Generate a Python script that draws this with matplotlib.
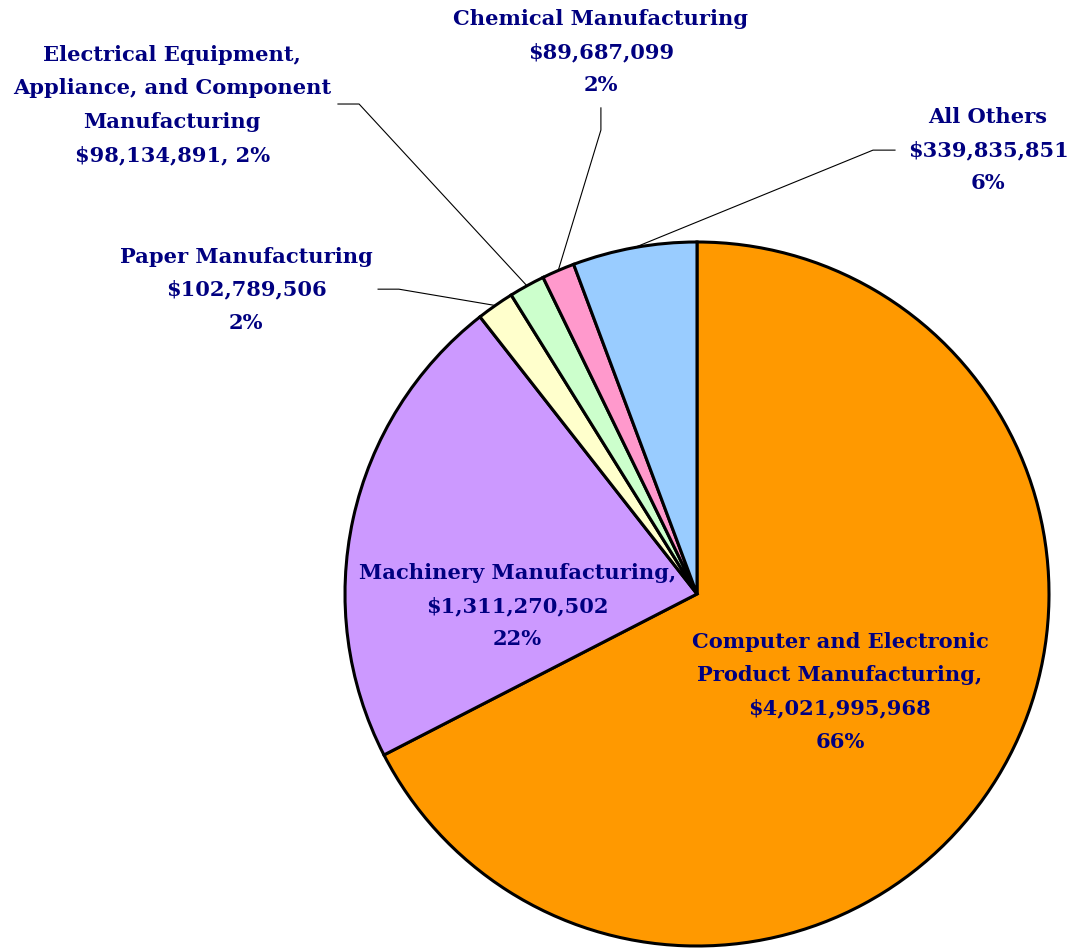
import matplotlib
matplotlib.use("Agg")
import matplotlib.pyplot as plt
import numpy as np

categories = ["Computer and Electronic Product Manufacturing", "Machinery Manufacturing",
              "Paper Manufacturing", "Electrical Equipment, Appliance, and Component Manufacturing",
              "Chemical Manufacturing", "All Others"]
values = [4021995968, 1311270502, 102789506, 98134891, 89687099, 339835851]
percents = ["66%", "22%", "2%", "2%", "2%", "6%"]
colors = ["#FF9900", "#CC99FF", "#FFFFCC", "#CCFFCC", "#FF99CC", "#99CCFF"]

label_texts = [
    "Computer and Electronic\nProduct Manufacturing,\n$4,021,995,968\n66%",
    "Machinery Manufacturing,\n$1,311,270,502\n22%",
    "Paper Manufacturing\n$102,789,506\n2%",
    "Electrical Equipment,\nAppliance, and Component\nManufacturing\n$98,134,891, 2%",
    "Chemical Manufacturing\n$89,687,099\n2%",
    "All Others\n$339,835,851\n6%",
]
label_pos = [(0.406, -0.278), (-0.511, -0.034), (-1.281, 0.864),
             (-1.491, 1.389), (-0.273, 1.540), (0.827, 1.261)]
# leader line elbow and end (None for inside labels)
leaders = [None, None,
           [(-0.847, 0.866), (-0.906, 0.866)],
           [(-0.960, 1.392), (-1.020, 1.392)],
           [(-0.273, 1.318), (-0.273, 1.381)],
           [(0.500, 1.261), (0.5625, 1.261)]]

W, H = 1074, 949
fig = plt.figure(figsize=(W / 100, H / 100), dpi=100)
cx, cy, r = 697, 594, 352
ax = fig.add_axes([(cx - r) / W, (H - cy - r) / H, 2 * r / W, 2 * r / H])

wedges, _ = ax.pie(values, colors=colors, startangle=90, counterclock=False, radius=1,
                   wedgeprops=dict(edgecolor="black", linewidth=2.2), center=(0, 0), frame=False)
ax.set_xlim(-1, 1)
ax.set_ylim(-1, 1)
ax.set_aspect("auto")
ax.axis("off")

font = dict(family="DejaVu Serif", fontweight="bold", color="#000080", fontsize=15.1)
for w, txt, pos, ld in zip(wedges, label_texts, label_pos, leaders):
    ax.text(pos[0], pos[1], txt, ha="center", va="center", linespacing=1.83,
            clip_on=False, **font)
    if ld is not None:
        ang = np.deg2rad((w.theta1 + w.theta2) / 2)
        ex, ey = np.cos(ang), np.sin(ang)
        xs = [ex, ld[0][0], ld[1][0]]
        ys = [ey, ld[0][1], ld[1][1]]
        ax.plot(xs, ys, color="black", lw=0.8, clip_on=False)

fig.savefig("out.png", dpi=100, facecolor="white")
